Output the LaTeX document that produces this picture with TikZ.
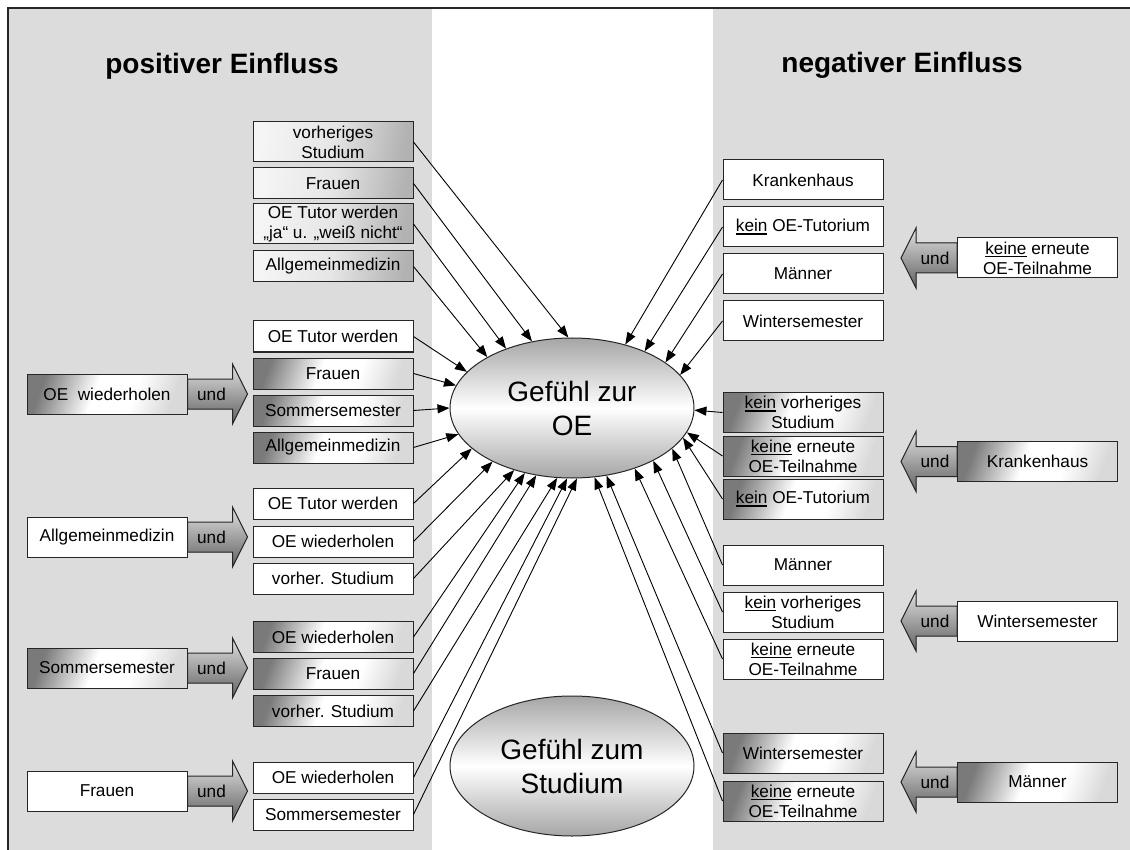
\documentclass[tikz,border=0pt]{standalone}
\usepackage{fontspec}
\setmainfont{Liberation Sans}
\usetikzlibrary{arrows.meta,shapes.geometric,calc}
\definecolor{panel}{HTML}{DCDCDC}
\newcommand\uln[1]{\leavevmode\setbox0\hbox{#1}\rlap{\rule[-3pt]{\wd0}{1.5pt}}\box0\relax}
\pgfdeclarehorizontalshading{boxdark}{100bp}{color(0bp)=(black!52); color(25bp)=(black!52); color(45bp)=(white); color(60bp)=(white); color(75bp)=(black!15); color(100bp)=(black!15)}
\pgfdeclarehorizontalshading{boxlight}{100bp}{color(0bp)=(black!4); color(25bp)=(black!4); color(50bp)=(black!10); color(75bp)=(black!30); color(100bp)=(black!30)}
\begin{document}
\begin{tikzpicture}[x=1pt,y=-1pt,
  box/.style={draw=black!85, line width=1pt, minimum width=160pt, inner sep=0pt, align=center, font=\fontsize{17.2}{20}\selectfont, fill=white},
  bs/.style={box, minimum height=31pt},
  bt/.style={box, minimum height=40pt},
  dark/.style={shade, shading=boxdark, shading angle=-20},
  light/.style={shade, shading=boxlight, shading angle=-10},
  conn/.style={-{Triangle[length=12pt,width=9pt]}, line width=0.9pt},
  undarrow/.style={draw=black!85, line width=1pt, top color=black!12, bottom color=black!62},
  undtxt/.style={inner sep=0pt, font=\fontsize{17.2}{20}\selectfont},
  title/.style={inner sep=0pt, font=\fontsize{28}{32}\selectfont\bfseries},
  ell/.style={ellipse, draw=black!85, line width=1pt, minimum width=244pt, minimum height=140pt, inner sep=0pt, align=center, font=\fontsize{28}{34}\selectfont, top color=black!35, bottom color=black!35, middle color=white}
]
\useasboundingbox (0,0) rectangle (1130,850);
\fill[white] (0,0) rectangle (1130,850);
\fill[panel] (9,9) rectangle (432,852);
\fill[panel] (713,9) rectangle (1132,852);
\draw[line width=1.4pt, black!85] (8,8) rectangle (1140,860);

\node[title] (tpos) at (222,66) {positiver Einfluss};
\node[title] (tneg) at (902,65) {negativer Einfluss};

% ellipses
\node[ell] (oe) at (572,408) {Gefühl zur\\OE};
\node[ell] (st) at (572,766) {Gefühl zum\\Studium};

% left boxes
\node[bt, light] (l1) at (333,142) {vorheriges\\Studium};
\node[bs, light] (l2) at (333,183.5) {Frauen};
\node[bt, light] (l3) at (333,224) {OE Tutor werden\\„ja“ u. „weiß nicht“};
\node[bs, light] (l4) at (333,266.5) {Allgemeinmedizin};
\node[bs] (l5) at (333,336.5) {OE Tutor werden};
\node[bs, dark] (l6) at (333,373.5) {Frauen};
\node[bs, dark] (l7) at (333,410.5) {Sommersemester};
\node[bs, dark] (l8) at (333,447.5) {Allgemeinmedizin};
\node[bs] (l9) at (333,503.5) {OE Tutor werden};
\node[bs] (l10) at (333,541.5) {OE wiederholen};
\node[bs] (l11) at (333,578.5) {vorher. Studium};
\node[bs, dark] (l12) at (333,637) {OE wiederholen};
\node[bs, dark] (l13) at (333,673.5) {Frauen};
\node[bs, dark] (l14) at (333,711) {vorher. Studium};
\node[bs] (l15) at (333,777.5) {OE wiederholen};
\node[bs] (l16) at (333,814.5) {Sommersemester};

% left sources
\node[bt, dark] (s1) at (107,394) {OE~ wiederholen};
\node[bt] (s2) at (107,537) {Allgemeinmedizin};
\node[bt, dark] (s3) at (107,668) {Sommersemester};
\node[bt] (s4) at (107,791) {Frauen};

% right boxes
\node[bt] (r1) at (803,180) {Krankenhaus};
\node[bt] (r2) at (803,227) {\uln{kein} OE-Tutorium};
\node[bt] (r3) at (803,274) {Männer};
\node[bt] (r4) at (803,321) {Wintersemester};
\node[bt, dark] (r5) at (803,412.5) {\uln{kein} vorheriges\\Studium};
\node[bt, dark] (r6) at (803,456) {\uln{keine} erneute\\OE-Teilnahme};
\node[bt, dark] (r7) at (803,499) {\uln{kein} OE-Tutorium};
\node[bt] (r8) at (803,565) {Männer};
\node[bt] (r9) at (803,612) {\uln{kein} vorheriges\\Studium};
\node[bt] (r10) at (803,659) {\uln{keine} erneute\\OE-Teilnahme};
\node[bt, dark] (r11) at (803,753) {Wintersemester};
\node[bt, dark] (r12) at (803,801) {\uln{keine} erneute\\OE-Teilnahme};

% right sources
\node[bt] (t1) at (1037.5,258) {\uln{keine} erneute\\OE-Teilnahme};
\node[bt, dark] (t2) at (1037.5,461.5) {Krankenhaus};
\node[bt] (t3) at (1037.5,621) {Wintersemester};
\node[bt, dark] (t4) at (1037.5,782) {Männer};

% und arrows (left)
\foreach \s in {s1,s2,s3,s4}{
  \filldraw[undarrow] ($(\s.east)+(0,-15)$) -- ++(45,0) -- ++(0,-15) -- ++(15,30) -- ++(-15,30) -- ++(0,-15) -- ($(\s.east)+(0,15)$) -- cycle;
  \node[undtxt] (u\s) at ($(\s.east)+(24,0)$) {und};
}
% und arrows (right)
\foreach \t in {t1,t2,t3,t4}{
  \filldraw[undarrow] ($(\t.west)+(0,-15)$) -- ++(-41,0) -- ++(0,-15) -- ++(-15,30) -- ++(15,30) -- ++(0,-15) -- ($(\t.west)+(0,15)$) -- cycle;
  \node[undtxt] (u\t) at ($(\t.west)+(-22,0)$) {und};
}

% connectors left
\draw[conn] (l1.east) -- (oe.93.2);
\draw[conn] (l2.east) -- (oe.121.2);
\draw[conn] (l3.east) -- (oe.138.5);
\draw[conn] (l4.east) -- (oe.149.6);
\draw[conn] (l5.east) -- (oe.161.9);
\draw[conn] (l6.east) -- (oe.169.1);
\draw[conn] (l7.east) -- (oe.180.5);
\draw[conn] (l8.east) -- (oe.193.5);
\draw[conn] (l9.east) -- (oe.202);
\draw[conn] (l10.east) -- (oe.214.8);
\draw[conn] (l11.east) -- (oe.227.2);
\draw[conn] (l12.east) -- (oe.234.1);
\draw[conn] (l13.east) -- (oe.242.5);
\draw[conn] (l14.east) -- (oe.258.5);
\draw[conn] (l15.east) -- (oe.266.3);
\draw[conn] (l16.east) -- (oe.274.3);
% connectors right
\draw[conn] (r1.west) -- (oe.50.8);
\draw[conn] (r2.west) -- (oe.38.2);
\draw[conn] (r3.west) -- (oe.26.3);
\draw[conn] (r4.west) -- (oe.17.4);
\draw[conn] (r5.west) -- (oe.359.5);
\draw[conn] (r6.west) -- (oe.348.7);
\draw[conn] (r7.west) -- (oe.345.5);
\draw[conn] (r8.west) -- (oe.338.7);
\draw[conn] (r9.west) -- (oe.327.9);
\draw[conn] (r10.west) -- (oe.316.7);
\draw[conn] (r11.west) -- (oe.297.2);
\draw[conn] (r12.west) -- (oe.288.2);
\end{tikzpicture}
\end{document}
